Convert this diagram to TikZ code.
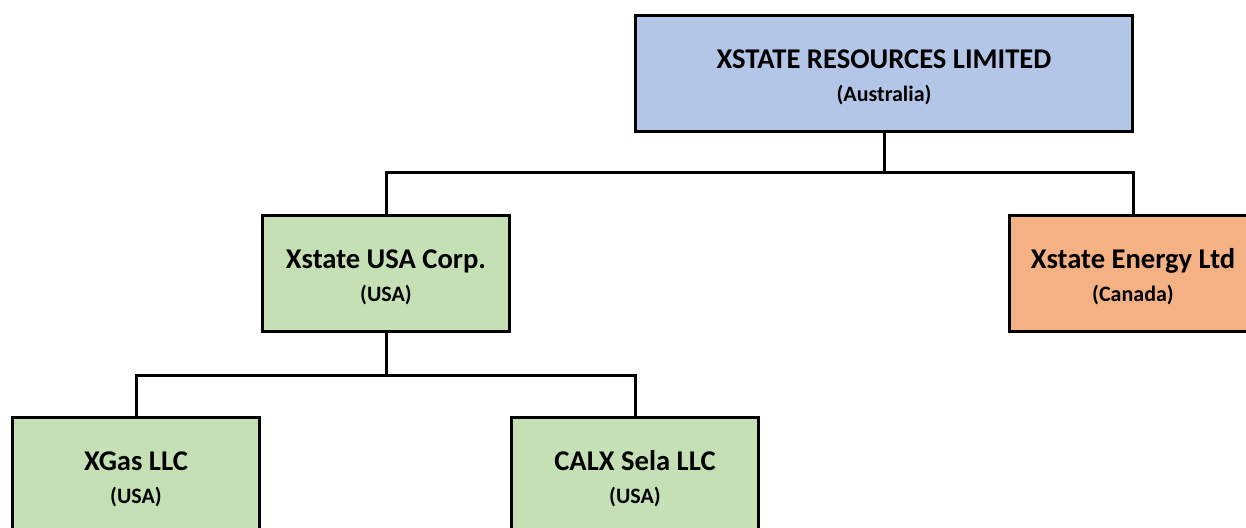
\documentclass[tikz,border=0pt]{standalone}
\usepackage{fontspec}
\setmainfont{Carlito}
\usetikzlibrary{positioning}

\definecolor{parentblue}{HTML}{B4C6E7}
\definecolor{subgreen}{HTML}{C5E0B4}
\definecolor{suborange}{HTML}{F4B183}

\newcommand{\entity}[2]{{\fontsize{14.3}{16}\selectfont\bfseries\rule{0pt}{13.4pt}#1}\\[4.7pt]{\fontsize{11}{13}\selectfont\bfseries #2}}

\begin{document}
\begin{tikzpicture}[x=0.5pt,y=-0.5pt]
    \tikzset{block/.style= {draw, line width=1.5pt, rectangle, align=center, minimum width=123.5pt, minimum height=58pt, inner sep=0pt},}
    \tikzset{link/.style= {draw, line width=1.5pt, line join=miter},}

    \clip (0,0) rectangle (1246,528);

    \node [block, fill=parentblue, minimum width=248.5pt] (parent) at (884,73.5) {\entity{XSTATE RESOURCES LIMITED}{(Australia)}};
    \node [block, fill=subgreen] (usa) at (386,273.5) {\entity{Xstate USA Corp.}{(USA)}};
    \node [block, fill=suborange] (energy) at (1133,273.5) {\entity{Xstate Energy Ltd}{(Canada)}};
    \node [block, fill=subgreen] (xgas) at (136,475.5) {\entity{XGas LLC}{(USA)}};
    \node [block, fill=subgreen] (calx) at (635,475.5) {\entity{CALX Sela LLC}{(USA)}};

    \coordinate (bus1) at (parent.south |- 0,173);
    \coordinate (bus2) at (usa.south |- 0,376);

    \path[link]
                (parent.south) -- (bus1) -| (usa.north)
                (bus1) -| (energy.north)
                (usa.south) -- (bus2) -| (xgas.north)
                (bus2) -| (calx.north)
                ;
\end{tikzpicture}
\end{document}
